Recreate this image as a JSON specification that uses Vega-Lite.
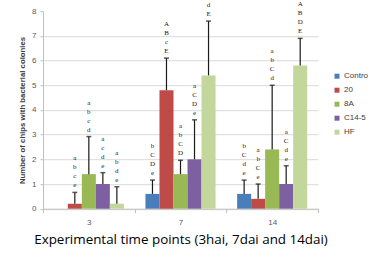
{
  "$schema": "https://vega.github.io/schema/vega-lite/v6.json",
  "width": 275,
  "height": 197.5,
  "autosize": {"type": "none"},
  "padding": {"left": 43, "top": 11.2, "right": 50, "bottom": 47.3},
  "background": "white",
  "config": {"view": {"stroke": null}, "font": "Liberation Sans"},
  "data": {
    "values": [
      {"group": "3", "series": "Control", "value": 0, "upper": null, "letters": ""},
      {"group": "3", "series": "20", "value": 0.2, "upper": 0.66, "letters": "a\nb\nc\ne"},
      {"group": "3", "series": "8A", "value": 1.4, "upper": 2.92, "letters": "a\nb\nc\nd"},
      {"group": "3", "series": "C14-5", "value": 1.0, "upper": 1.46, "letters": "a\nc\nd\ne"},
      {"group": "3", "series": "HF", "value": 0.2, "upper": 0.89, "letters": "a\nb\nd\ne"},
      {"group": "7", "series": "Control", "value": 0.6, "upper": 1.16, "letters": "b\nC\nD\ne"},
      {"group": "7", "series": "20", "value": 4.8, "upper": 6.1, "letters": "A\nB\nc\nE"},
      {"group": "7", "series": "8A", "value": 1.4, "upper": 1.96, "letters": "a\nb\nC\nD"},
      {"group": "7", "series": "C14-5", "value": 2.0, "upper": 3.6, "letters": "a\nC\nD\ne"},
      {"group": "7", "series": "HF", "value": 5.4, "upper": 7.6, "letters": "\u200b\n\u200b\nd\nE"},
      {"group": "14", "series": "Control", "value": 0.6, "upper": 1.16, "letters": "b\nC\nd\ne"},
      {"group": "14", "series": "20", "value": 0.4, "upper": 1.0, "letters": "a\nb\nC\ne"},
      {"group": "14", "series": "8A", "value": 2.4, "upper": 5.0, "letters": "a\nb\nC\nd"},
      {"group": "14", "series": "C14-5", "value": 1.0, "upper": 1.74, "letters": "a\nC\nd\ne"},
      {"group": "14", "series": "HF", "value": 5.8, "upper": 6.9, "letters": "A\nB\nD\nE"}
    ]
  },
  "encoding": {
    "x": {
      "field": "group",
      "type": "nominal",
      "sort": ["3", "7", "14"],
      "scale": {"paddingInner": 0, "paddingOuter": 0},
      "title": "Experimental time points (3hai, 7dai and 14dai)",
      "axis": {
        "labelAngle": 0,
        "tickBand": "extent",
        "tickSize": 4,
        "tickColor": "#bfbfbf",
        "domainColor": "#bfbfbf",
        "labelFontSize": 8,
        "labelColor": "#595959",
        "labelPadding": 6,
        "titleFont": "Open Sans",
        "titleFontSize": 13.4,
        "titleFontWeight": "normal",
        "titleColor": "#000000",
        "titlePadding": 6
      }
    },
    "xOffset": {
      "field": "series",
      "type": "nominal",
      "sort": ["Control", "20", "8A", "C14-5", "HF"],
      "scale": {"paddingInner": 0, "paddingOuter": 0.77}
    }
  },
  "layer": [
    {
      "mark": {"type": "bar"},
      "encoding": {
        "y": {
          "field": "value",
          "type": "quantitative",
          "scale": {"domain": [0, 8], "nice": false},
          "title": "Number of chips with bacterial colonies",
          "axis": {
            "tickCount": 8,
            "labelOverlap": false,
            "grid": true,
            "gridColor": {"condition": {"test": "datum.value === 8", "value": "transparent"}, "value": "#d9d9d9"},
            "domainColor": "#bfbfbf",
            "tickColor": "#bfbfbf",
            "tickSize": 3,
            "labelFontSize": 8,
            "labelColor": "#595959",
            "labelPadding": 4,
            "titleFontSize": 7.8,
            "titleFontWeight": "bold",
            "titleColor": "#404040",
            "titleX": -21,
            "titleY": 98.75,
            "titleAngle": 270,
            "titleAlign": "center",
            "titleBaseline": "middle"
          }
        },
        "color": {
          "field": "series",
          "type": "nominal",
          "scale": {
            "domain": ["Control", "20", "8A", "C14-5", "HF"],
            "range": ["#4a7ebb", "#be4b48", "#98b954", "#7d60a0", "#c3d69b"]
          },
          "legend": {
            "title": null,
            "orient": "none",
            "legendX": 290,
            "legendY": 61,
            "symbolType": "square",
            "symbolSize": 25,
            "symbolStrokeWidth": 0,
            "labelFontSize": 8,
            "labelColor": "#404040",
            "labelOffset": 3,
            "rowPadding": 6
          }
        }
      }
    },
    {
      "transform": [{"filter": "datum.upper != null"}],
      "mark": {"type": "rule", "color": "#1a1a1a", "strokeWidth": 1.2},
      "encoding": {
        "y": {"field": "value", "type": "quantitative", "title": "Number of chips with bacterial colonies"},
        "y2": {"field": "upper"}
      }
    },
    {
      "transform": [{"filter": "datum.upper != null"}],
      "mark": {"type": "tick", "color": "#1a1a1a", "size": 5, "thickness": 1.5},
      "encoding": {
        "y": {"field": "upper", "type": "quantitative", "title": "Number of chips with bacterial colonies"}
      }
    },
    {
      "transform": [{"filter": "datum.upper != null"}],
      "mark": {
        "type": "text",
        "font": "Liberation Serif",
        "fontSize": 7,
        "color": "#222222",
        "baseline": "alphabetic",
        "lineBreak": "\n",
        "lineHeight": 9,
        "dy": -32
      },
      "encoding": {
        "y": {"field": "upper", "type": "quantitative", "title": "Number of chips with bacterial colonies"},
        "text": {"field": "letters"}
      }
    }
  ]
}
